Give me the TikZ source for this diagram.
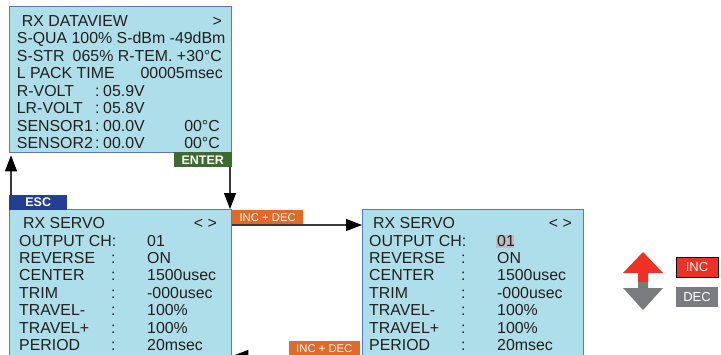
\documentclass[tikz,border=0pt]{standalone}
\usepackage{fontspec}
\setmainfont{Liberation Sans}
\usepackage{tikz}
\usetikzlibrary{arrows.meta}
\definecolor{panel}{HTML}{AEDEEA}
\definecolor{frame}{HTML}{5B77BE}
\definecolor{ink}{HTML}{231F20}
\definecolor{enter}{HTML}{3D6B2F}
\definecolor{esc}{HTML}{223F94}
\definecolor{keyor}{HTML}{E1692A}
\definecolor{incred}{HTML}{EE3124}
\definecolor{decgray}{HTML}{7A7B7E}
\definecolor{wire}{HTML}{3A3A3A}
\definecolor{hilite}{HTML}{BDBDBD}

\begin{document}
\begin{tikzpicture}[x=1pt,y=-1pt,
  box/.style={draw=frame,line width=1.3pt,fill=panel,anchor=north west,inner sep=0pt},
  txt/.style={font=\fontsize{15.9}{18}\selectfont,color=ink,anchor=base west,inner sep=0pt},
  txr/.style={txt,anchor=base east},
  key/.style={font=\fontsize{12.5}{13}\selectfont\bfseries,text=white,minimum width=58pt,minimum height=15pt,inner sep=0pt},
  tag/.style={font=\fontsize{11.3}{12}\selectfont,text=white,fill=keyor,minimum width=71pt,minimum height=15pt,inner sep=0pt},
  btn/.style={font=\fontsize{13}{14}\selectfont,text=white,minimum width=42pt,minimum height=20pt,inner sep=0pt},
  ar/.style={-{Triangle[length=16pt,width=12pt,color=black]},draw=wire,line width=1.1pt},
]
\useasboundingbox (0,0) rectangle (721,354);

\node[box,minimum width=222pt,minimum height=146pt] (dataview) at (9,6) {};
\node[box,minimum width=222pt,minimum height=160pt] (servo) at (9,209) {};
\node[box,minimum width=221pt,minimum height=160pt] (servoedit) at (362,209) {};

\node[txt] (d0) at (21.7,26.4) {RX DATAVIEW};
\node[txr] (d0r) at (222,26.4) {>};
\node[txt] (d1) at (16.7,43.8) {S-QUA 100\% S-dBm -49dBm};
\node[txt] (d2) at (16.7,61.3) {S-STR};
\node[txr] (d2r) at (222,61.3) {065\% R-TEM. +30°C};
\node[txt] (d3) at (16.7,78.7) {L PACK TIME};
\node[txr] (d3r) at (223,78.7) {00005msec};
\node[txt] (d4) at (16.7,96.1) {R-VOLT};
\node[txt] (d4c) at (95,96.1) {:};
\node[txt] (d4v) at (103,96.1) {05.9V};
\node[txt] (d5) at (16.7,113.6) {LR-VOLT};
\node[txt] (d5c) at (95,113.6) {:};
\node[txt] (d5v) at (103,113.6) {05.8V};
\node[txt] (d6) at (16.7,131.0) {SENSOR1};
\node[txt] (d6c) at (95,131.0) {:};
\node[txt] (d6v) at (103,131.0) {00.0V};
\node[txr] (d6r) at (220,131.0) {00°C};
\node[txt] (d7) at (16.7,148.4) {SENSOR2};
\node[txt] (d7c) at (95,148.4) {:};
\node[txt] (d7v) at (103,148.4) {00.0V};
\node[txr] (d7r) at (220,148.4) {00°C};

\node[txt] (s0) at (23,228.7) {RX SERVO};
\node[txr] (s0r) at (217,228.7) {< >};
\node[txt] (s1) at (19,246.1) {OUTPUT CH:};
\node[txt] (s1v) at (147,246.1) {01};
\node[txt] (s2) at (19,263.5) {REVERSE};
\node[txt] (s2c) at (111,263.5) {:};
\node[txt] (s2v) at (147,263.5) {ON};
\node[txt] (s3) at (19,280.9) {CENTER};
\node[txt] (s3c) at (111,280.9) {:};
\node[txt] (s3v) at (147,280.9) {1500usec};
\node[txt] (s4) at (19,298.3) {TRIM};
\node[txt] (s4c) at (111,298.3) {:};
\node[txt] (s4v) at (147,298.3) {-000usec};
\node[txt] (s5) at (19,315.7) {TRAVEL-};
\node[txt] (s5c) at (111,315.7) {:};
\node[txt] (s5v) at (147,315.7) {100\%};
\node[txt] (s6) at (19,333.1) {TRAVEL+};
\node[txt] (s6c) at (111,333.1) {:};
\node[txt] (s6v) at (147,333.1) {100\%};
\node[txt] (s7) at (19,350.5) {PERIOD};
\node[txt] (s7c) at (111,350.5) {:};
\node[txt] (s7v) at (147,350.5) {20msec};

\fill[hilite] (496,235) rectangle (513.5,247.5);
\node[txt] (e0) at (373,228.7) {RX SERVO};
\node[txr] (e0r) at (572,228.7) {< >};
\node[txt] (e1) at (369,246.1) {OUTPUT CH:};
\node[txt] (e1v) at (497,246.1) {01};
\node[txt] (e2) at (369,263.5) {REVERSE};
\node[txt] (e2c) at (461,263.5) {:};
\node[txt] (e2v) at (497,263.5) {ON};
\node[txt] (e3) at (369,280.9) {CENTER};
\node[txt] (e3c) at (461,280.9) {:};
\node[txt] (e3v) at (497,280.9) {1500usec};
\node[txt] (e4) at (369,298.3) {TRIM};
\node[txt] (e4c) at (461,298.3) {:};
\node[txt] (e4v) at (497,298.3) {-000usec};
\node[txt] (e5) at (369,315.7) {TRAVEL-};
\node[txt] (e5c) at (461,315.7) {:};
\node[txt] (e5v) at (497,315.7) {100\%};
\node[txt] (e6) at (369,333.1) {TRAVEL+};
\node[txt] (e6c) at (461,333.1) {:};
\node[txt] (e6v) at (497,333.1) {100\%};
\node[txt] (e7) at (369,350.5) {PERIOD};
\node[txt] (e7c) at (461,350.5) {:};
\node[txt] (e7v) at (497,350.5) {20msec};

\node[key,fill=enter,anchor=north east] (enterkey) at (232,152) {ENTER};
\node[key,fill=esc,anchor=south west] (esckey) at (9,210) {ESC};
\node[tag,anchor=south west] (incdecA) at (232,225) {INC + DEC};
\node[tag,anchor=south east] (incdecB) at (360,356) {INC + DEC};

\draw[ar] ([xshift=2pt]esckey.north west) -- ([xshift=2pt,yshift=-2pt]esckey.north west |- dataview.south);
\draw[ar] ([xshift=-2pt]enterkey.south east) -- ([xshift=-2pt]enterkey.south east |- servo.north);
\draw[ar] (incdecA.south west) -- (incdecA.south west -| servoedit.west);
\draw[ar] (incdecB.south -| servoedit.west) -- (incdecB.south -| servo.east);

\fill[incred] (623,273) -- (643,252) -- (663,273) -- (648,273) -- (648,282) -- (638,282) -- (638,273) -- cycle;
\fill[decgray] (638,282) -- (648,282) -- (648,288) -- (663,288) -- (643,310) -- (623,288) -- (638,288) -- cycle;
\node[btn,fill=incred,draw=black,line width=0.7pt] (inc) at (697,267.5) {INC};
\node[btn,fill=decgray] (dec) at (697,297) {DEC};
\end{tikzpicture}
\end{document}
